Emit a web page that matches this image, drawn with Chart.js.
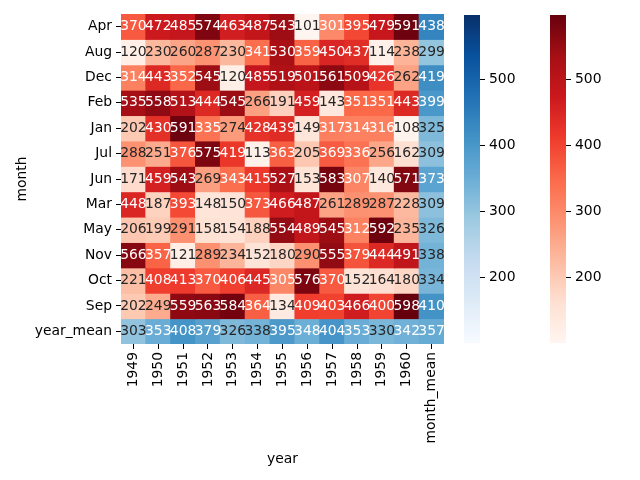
<!DOCTYPE html>
<html>
<head>
<meta charset="utf-8">
<script src="https://cdn.jsdelivr.net/npm/chart.js@4/dist/chart.umd.min.js"></script>
<style>
  body { margin: 0; background: #fff; }
  #wrap { position: relative; width: 640px; height: 480px; }
  canvas { position: absolute; top: 0; }
</style>
</head>
<body>
<div id="wrap">
  <canvas id="heat" width="640" height="480" style="left:0"></canvas>
  <canvas id="cbBlue" width="80" height="480" style="left:464px"></canvas>
  <canvas id="cbRed" width="80" height="480" style="left:550px"></canvas>
</div>
<script>
// 行・列のラベル
const years = ['1949', '1950', '1951', '1952', '1953', '1954', '1955', '1956', '1957', '1958', '1959', '1960'];
const months = ['Apr', 'Aug', 'Dec', 'Feb', 'Jan', 'Jul', 'Jun', 'Mar', 'May', 'Nov', 'Oct', 'Sep'];

// 月ごと（行）の値
const apr = [370, 472, 485, 574, 463, 487, 543, 101, 301, 395, 479, 591];
const aug = [120, 230, 260, 287, 230, 341, 530, 359, 450, 437, 114, 238];
const dec = [314, 443, 352, 545, 120, 485, 519, 501, 561, 509, 426, 262];
const feb = [535, 558, 513, 444, 545, 266, 191, 459, 143, 351, 351, 443];
const jan = [202, 430, 591, 335, 274, 428, 439, 149, 317, 314, 316, 108];
const jul = [288, 251, 376, 575, 419, 113, 363, 205, 369, 336, 256, 162];
const jun = [171, 459, 543, 269, 343, 415, 527, 153, 583, 307, 140, 571];
const mar = [448, 187, 393, 148, 150, 373, 466, 487, 261, 289, 287, 228];
const may = [206, 199, 291, 158, 154, 188, 554, 489, 545, 312, 592, 235];
const nov = [566, 357, 121, 289, 234, 152, 180, 290, 555, 379, 444, 491];
const oct = [221, 408, 413, 370, 406, 445, 305, 576, 370, 152, 164, 180];
const sep = [202, 249, 559, 563, 584, 364, 134, 409, 403, 466, 400, 598];
const monthRows = [apr, aug, dec, feb, jan, jul, jun, mar, may, nov, oct, sep];

// 平均（右の列と下の行）
const monthMean = [438, 299, 419, 399, 325, 309, 373, 309, 326, 338, 334, 410];
const yearMean = [303, 353, 408, 379, 326, 338, 395, 348, 404, 353, 330, 342];
const grandMean = 357;

const colorbarTicks = [200, 300, 400, 500];

const rowLabels = months.concat(['year_mean']);
const colLabels = years.concat(['month_mean']);

// カラーマップ（matplotlib Reds / Blues）
const REDS = ['#fff5f0', '#fee0d2', '#fcbba1', '#fc9272', '#fb6a4a', '#ef3b2c', '#cb181d', '#a50f15', '#67000d'];
const BLUES = ['#f7fbff', '#deebf7', '#c6dbef', '#9ecae1', '#6baed6', '#4292c6', '#2171b5', '#08519c', '#08306b'];

const allValues = monthRows.flat().concat(monthMean, yearMean, [grandMean]);
const vmin = Math.min(...allValues);
const vmax = Math.max(...allValues);

function hexToRgb(h) {
  return [parseInt(h.slice(1, 3), 16), parseInt(h.slice(3, 5), 16), parseInt(h.slice(5, 7), 16)];
}

function cmap(stops, t) {
  t = Math.max(0, Math.min(1, t));
  const pos = t * (stops.length - 1);
  const i = Math.min(Math.floor(pos), stops.length - 2);
  const f = pos - i;
  const a = hexToRgb(stops[i]);
  const b = hexToRgb(stops[i + 1]);
  return a.map((c, k) => Math.round(c + (b[k] - c) * f));
}

function cellRgb(row, col, value) {
  const stops = (row === 12 || col === 12) ? BLUES : REDS;
  return cmap(stops, (value - vmin) / (vmax - vmin));
}

// seaborn と同じ文字色の判定
function textColor(rgb) {
  const lin = rgb.map((c) => {
    c = c / 255;
    return c <= 0.03928 ? c / 12.92 : Math.pow((c + 0.055) / 1.055, 2.4);
  });
  const lum = 0.2126 * lin[0] + 0.7152 * lin[1] + 0.0722 * lin[2];
  return lum > 0.408 ? '#262626' : '#ffffff';
}

function cellValue(row, col) {
  if (row === 12) return col === 12 ? grandMean : yearMean[col];
  return col === 12 ? monthMean[row] : monthRows[row][col];
}

const FONT = { family: 'DejaVu Sans', size: 13.9 };

// 1 行 = 1 データセット（浮動棒で [行, 行+1] を塗る）
const datasets = rowLabels.map((label, r) => {
  const values = colLabels.map((_, c) => cellValue(r, c));
  const colors = values.map((v, c) => 'rgb(' + cellRgb(r, c, v).join(',') + ')');
  return {
    label: label,
    data: values.map(() => [r, r + 1]),
    values: values,
    backgroundColor: colors,
    borderWidth: 0,
    inflateAmount: 0.5,
    grouped: false,
    barPercentage: 1.0,
    categoryPercentage: 1.0,
  };
});

const annotatePlugin = {
  id: 'annotate',
  afterDatasetsDraw(chart) {
    const ctx = chart.ctx;
    ctx.save();
    ctx.font = FONT.size + 'px "' + FONT.family + '"';
    ctx.textAlign = 'center';
    ctx.textBaseline = 'middle';
    chart.data.datasets.forEach((ds, r) => {
      chart.getDatasetMeta(r).data.forEach((bar, c) => {
        const v = ds.values[c];
        const p = bar.getCenterPoint();
        ctx.fillStyle = textColor(cellRgb(r, c, v));
        ctx.fillText(String(v), p.x, p.y);
      });
    });
    ctx.restore();
  },
};

Chart.defaults.font.family = FONT.family;
Chart.defaults.font.size = FONT.size;
Chart.defaults.color = '#000';

new Chart(document.getElementById('heat').getContext('2d'), {
  type: 'bar',
  data: { labels: colLabels, datasets: datasets },
  options: {
    responsive: false,
    animation: false,
    layout: { padding: { top: 14, right: 196, bottom: 0, left: 0 } },
    plugins: { legend: { display: false }, tooltip: { enabled: false } },
    scales: {
      x: {
        type: 'category',
        offset: true,
        grid: { offset: false, drawOnChartArea: false, tickLength: 5, color: '#000' },
        border: { display: false },
        ticks: { autoSkip: false, minRotation: 90, maxRotation: 90, padding: 3 },
        title: { display: true, text: 'year', padding: { top: 12, bottom: 12 } },
        afterFit: (scale) => { scale.height = 136; },
      },
      y: {
        type: 'linear',
        min: 0,
        max: rowLabels.length,
        reverse: true,
        grid: { drawOnChartArea: false, tickLength: 5, color: '#000' },
        border: { display: false },
        afterBuildTicks: (scale) => {
          scale.ticks = rowLabels.map((_, i) => ({ value: i + 0.5 }));
        },
        ticks: { padding: 4, callback: (value, index) => rowLabels[index] },
        title: { display: true, text: 'month', padding: { top: 14, bottom: 14 } },
        afterFit: (scale) => { scale.width = 121; },
      },
    },
  },
  plugins: [annotatePlugin],
});

// カラーバー
function makeColorbar(id, stops) {
  new Chart(document.getElementById(id).getContext('2d'), {
    type: 'bar',
    data: {
      labels: [''],
      datasets: [{
        data: [[vmin, vmax]],
        borderWidth: 0,
        barPercentage: 1.0,
        categoryPercentage: 1.0,
        backgroundColor: (c) => {
          const area = c.chart.chartArea;
          if (!area) return stops[4];
          const g = c.chart.ctx.createLinearGradient(0, area.bottom, 0, area.top);
          for (let i = 0; i <= 32; i++) {
            g.addColorStop(i / 32, 'rgb(' + cmap(stops, i / 32).join(',') + ')');
          }
          return g;
        },
      }],
    },
    options: {
      responsive: false,
      animation: false,
      layout: { padding: { top: 15, right: 0, bottom: 137, left: 0 } },
      plugins: { legend: { display: false }, tooltip: { enabled: false } },
      scales: {
        x: { display: false },
        y: {
          position: 'right',
          min: vmin,
          max: vmax,
          grid: { drawOnChartArea: false, tickLength: 5, color: '#000' },
          border: { display: false },
          afterBuildTicks: (scale) => {
            scale.ticks = colorbarTicks.map((v) => ({ value: v }));
          },
          ticks: { padding: 4 },
          afterFit: (scale) => { scale.width = 64; },
        },
      },
    },
  });
}

makeColorbar('cbBlue', BLUES);
makeColorbar('cbRed', REDS);
</script>
</body>
</html>
